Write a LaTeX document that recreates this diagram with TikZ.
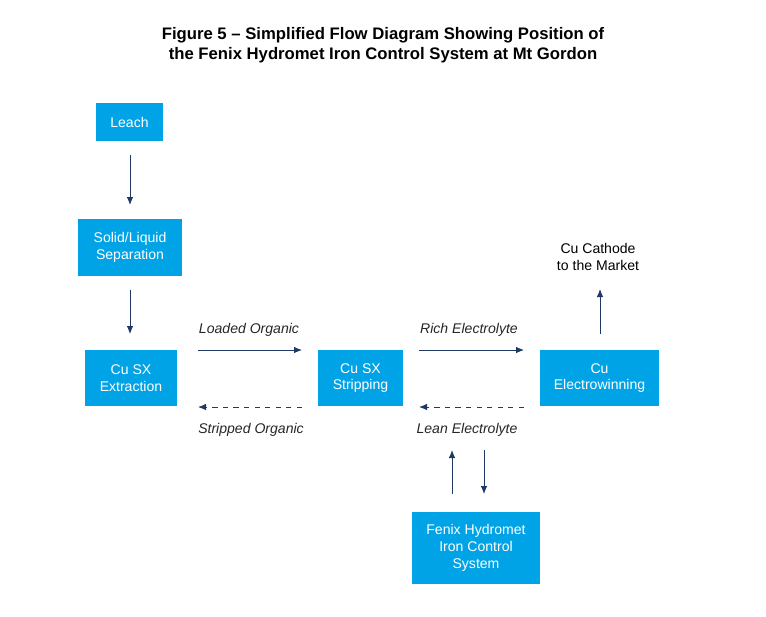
\documentclass[tikz,border=0pt]{standalone}
\usepackage{fontspec}
\setmainfont{Liberation Sans}
\usetikzlibrary{arrows.meta, calc}
\definecolor{boxblue}{HTML}{00A3E6}
\definecolor{navy}{HTML}{1F3864}
\tikzset{
    my-box/.style={
        fill=boxblue, text=white, align=center, font=\fontsize{8}{9.5}\selectfont,
        inner sep=0pt
    },
    my-flow/.style={
        navy, -{Latex[length=1.6mm, width=1.3mm]}, line width=0.5pt
    },
    my-return/.style={
        my-flow, dashed
    },
    my-label/.style={
        font=\fontsize{8}{9.5}\selectfont\itshape, text=black!85
    },
}
\begin{document}
\begin{tikzpicture}[x=0.02cm, y=-0.02cm]

        \useasboundingbox (0, 0) rectangle (766, 616);

        % TITLE
        \node[font=\fontsize{9.5}{11.5}\selectfont\bfseries, align=center] (TITLE) at (383, 45)
            {Figure 5 -- Simplified Flow Diagram Showing Position of\\the Fenix Hydromet Iron Control System at Mt Gordon};

        % BOXES
        \node[my-box, minimum width=1.34cm, minimum height=0.76cm] (LEACH)  at (129.5, 122)   {Leach};
        \node[my-box, minimum width=2.08cm, minimum height=1.14cm] (SOLID)  at (130, 247.5)   {Solid/Liquid\\Separation};
        \node[my-box, minimum width=1.84cm, minimum height=1.12cm] (EXTR)   at (131, 378)     {Cu SX\\Extraction};
        \node[my-box, minimum width=1.70cm, minimum height=1.12cm] (STRIP)  at (360.5, 378)   {Cu SX\\Stripping};
        \node[my-box, minimum width=2.38cm, minimum height=1.12cm] (EW)     at (599.5, 378)   {Cu\\Electrowinning};
        \node[my-box, minimum width=2.56cm, minimum height=1.44cm] (FENIX)  at (476, 548)     {Fenix Hydromet\\Iron Control\\System};

        % OUTPUT TEXT
        \node[font=\fontsize{8}{9.5}\selectfont, align=center] (CATHODE) at (598, 257) {Cu Cathode\\to the Market};

        % CONNECTOR POINTS
        \coordinate (LEACHOUT) at (130, 155);
        \coordinate (SOLIDIN)  at (130, 205);
        \coordinate (SOLIDOUT) at (130, 290);
        \coordinate (EXTRIN)   at (130, 334);
        \coordinate (LOADA)    at (198, 350);
        \coordinate (LOADB)    at (302, 350);
        \coordinate (STRIPA)   at (302, 407);
        \coordinate (STRIPB)   at (198, 407);
        \coordinate (RICHA)    at (419, 350);
        \coordinate (RICHB)    at (524, 350);
        \coordinate (LEANA)    at (524, 407);
        \coordinate (LEANB)    at (419, 407);
        \coordinate (FUPA)     at (452, 494);
        \coordinate (FUPB)     at (452, 450);
        \coordinate (FDNA)     at (484, 450);
        \coordinate (FDNB)     at (484, 494);
        \coordinate (EWOUT)    at (600, 334);
        \coordinate (EWTOP)    at (600, 289);

        % FLOWS
        \draw[my-flow] (LEACHOUT) -- (SOLIDIN);
        \draw[my-flow] (SOLIDOUT) -- (EXTRIN);
        \draw[my-flow] (LOADA) -- (LOADB);
        \draw[my-return] (STRIPA) -- (STRIPB);
        \draw[my-flow] (RICHA) -- (RICHB);
        \draw[my-return] (LEANA) -- (LEANB);
        \draw[my-flow] (FUPA) -- (FUPB);
        \draw[my-flow] (FDNA) -- (FDNB);
        \draw[my-flow] (EWOUT) -- (EWTOP);

        % FLOW LABELS
        \node[my-label] (LOADED)   at (249, 330) {Loaded Organic};
        \node[my-label] (STRIPPED) at (251, 430) {Stripped Organic};
        \node[my-label] (RICH)     at (469, 330) {Rich Electrolyte};
        \node[my-label] (LEAN)     at (467, 430) {Lean Electrolyte};

\end{tikzpicture}
\end{document}
